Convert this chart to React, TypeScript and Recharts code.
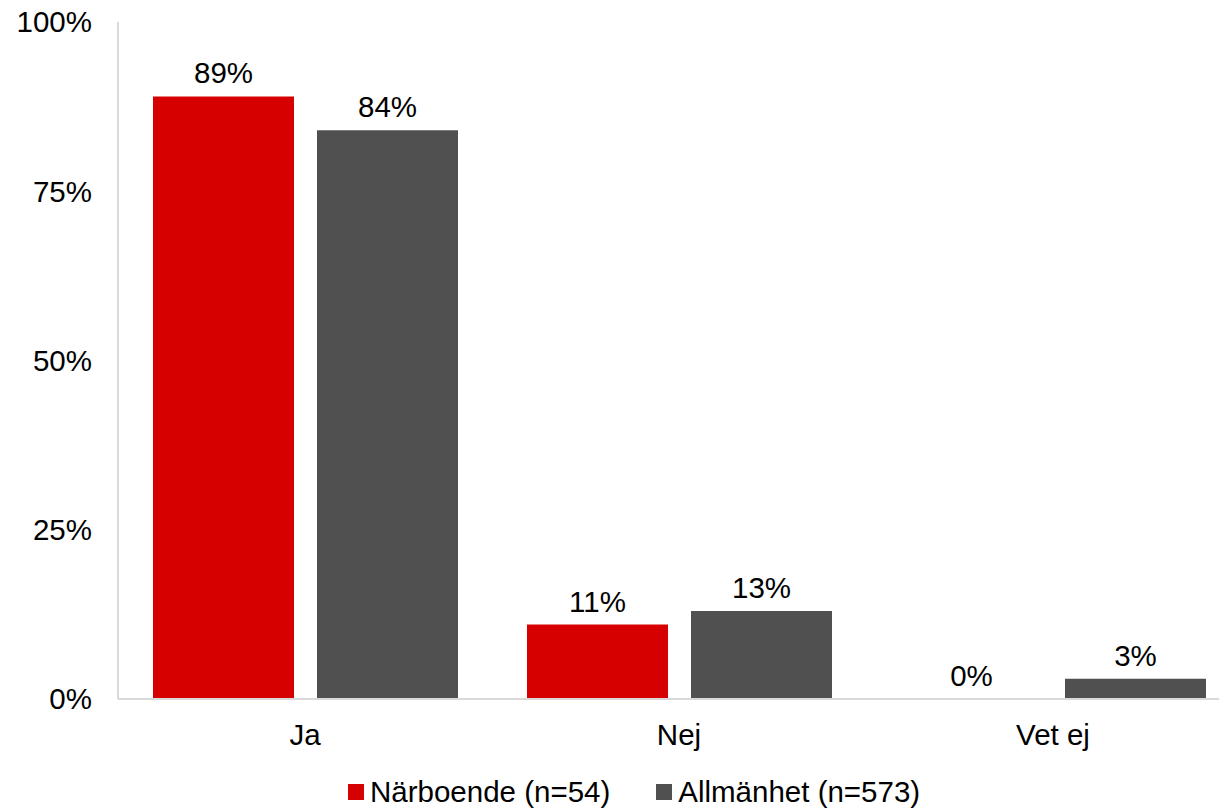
import React from 'react';
import { BarChart, Bar, XAxis, YAxis, Legend, LabelList } from 'recharts';

const categories = ['Ja', 'Nej', 'Vet ej'];
const narboende = [89, 11, 0];
const allmanhet = [84, 13, 3];
const yTicks = [0, 25, 50, 75, 100];

const seriesNames = ['Närboende (n=54)', 'Allmänhet (n=573)'];
const RED = '#d70000';
const GRAY = '#505050';
const AXIS = '#d9d9d9';
const FONT = '"Liberation Sans", Arial, sans-serif';
const FS = 29.5;

const data = categories.map((c, i) => ({
    name: c,
    narboende: narboende[i],
    allmanhet: allmanhet[i],
}));

const renderValue = (props: any) => {
    const { x, y, width, value } = props;
    return (
        <text
            x={Number(x) + Number(width) / 2}
            y={Number(y) - 13}
            textAnchor="middle"
            fill="#000"
            fontSize={FS}
            fontFamily={FONT}
        >
            {`${value}%`}
        </text>
    );
};

const LegendContent = () => {
    const items = [
        { name: seriesNames[0], color: RED },
        { name: seriesNames[1], color: GRAY },
    ];
    return (
        <div style={{ display: 'flex', alignItems: 'center', marginLeft: 348, paddingTop: 16, fontFamily: FONT, fontSize: FS, color: '#000' }}>
            {items.map((it, i) => (
                <div key={it.name} style={{ display: 'flex', alignItems: 'center', marginRight: i === 0 ? 46 : 0 }}>
                    <span style={{ display: 'inline-block', width: 16, height: 16, background: it.color, marginRight: 6 }} />
                    <span>{it.name}</span>
                </div>
            ))}
        </div>
    );
};

export default function App() {
    return (
        <div style={{ position: 'absolute', left: 0, top: 0, width: 1219, height: 808, overflow: 'hidden', background: '#fff' }}>
            <BarChart
                width={1250}
                height={808}
                data={data}
                margin={{ top: 22, right: 10, bottom: 0, left: 0 }}
                barCategoryGap={35}
                barGap={23}
            >
                <XAxis
                    dataKey="name"
                    stroke={AXIS}
                    strokeWidth={2}
                    tickLine={false}
                    tickSize={0}
                    tickMargin={25}
                    height={60}
                    tick={{ fill: '#000', fontSize: FS, fontFamily: FONT }}
                />
                <YAxis
                    domain={[0, 100]}
                    ticks={yTicks}
                    width={118}
                    stroke={AXIS}
                    strokeWidth={2}
                    tickLine={false}
                    tickSize={0}
                    tickMargin={26}
                    tickFormatter={(v) => `${v}%`}
                    tick={{ fill: '#000', fontSize: FS, fontFamily: FONT }}
                />
                <Legend verticalAlign="bottom" height={49} content={<LegendContent />} />
                {/* tiny minPointSize keeps the 0% bar (and its label) in the rendered set */}
                <Bar dataKey="narboende" name={seriesNames[0]} fill={RED} minPointSize={0.01} isAnimationActive={false}>
                    <LabelList dataKey="narboende" content={renderValue} />
                </Bar>
                <Bar dataKey="allmanhet" name={seriesNames[1]} fill={GRAY} isAnimationActive={false}>
                    <LabelList dataKey="allmanhet" content={renderValue} />
                </Bar>
            </BarChart>
        </div>
    );
}
